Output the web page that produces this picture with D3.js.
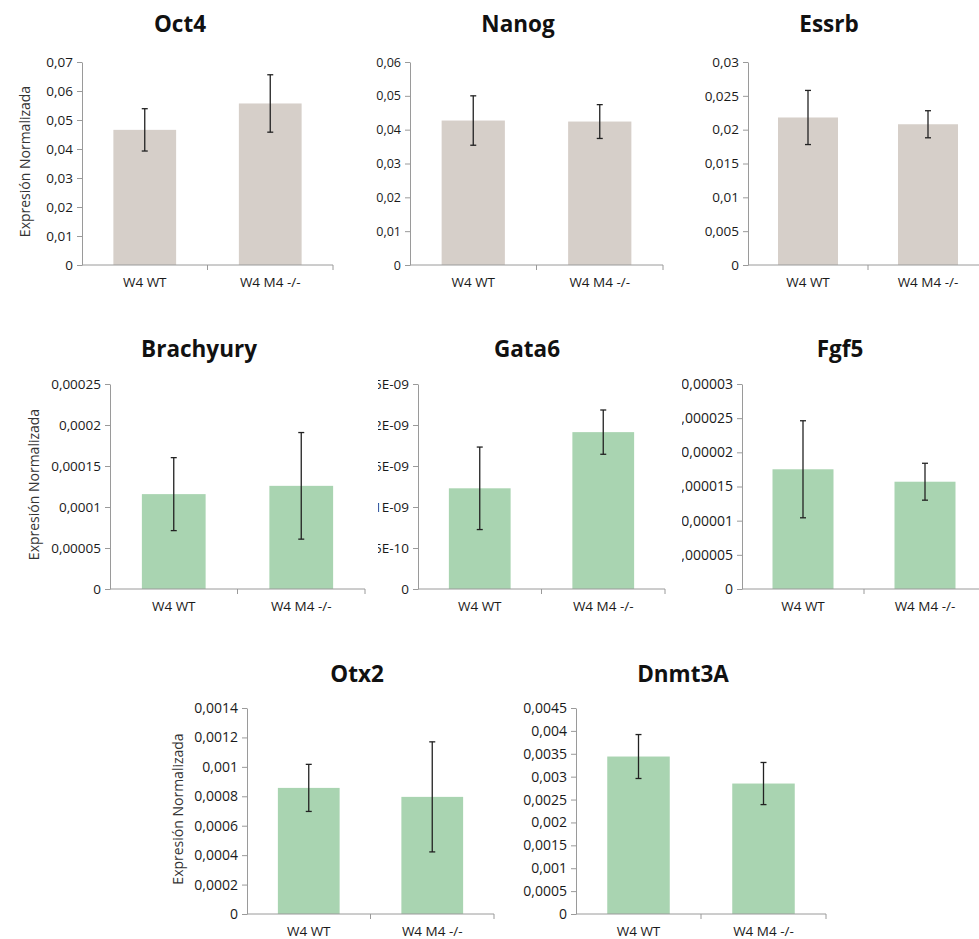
<!DOCTYPE html>
<html>
<head>
<meta charset="utf-8">
<script src="https://cdn.jsdelivr.net/npm/d3@7"></script>
<style>
  body { margin: 0; background: #fff; }
  svg { display: block; font-family: "Open Sans", sans-serif; }
</style>
</head>
<body>
<script>
// Data
var genes = ["Oct4", "Nanog", "Essrb", "Brachyury", "Gata6", "Fgf5", "Otx2", "Dnmt3A"];
var groups = ["W4 WT", "W4 M4 -/-"];

var wtMeans  = [0.0466, 0.0427, 0.0218, 0.0001157, 1.228e-9, 1.752e-5, 0.000857, 0.00344];
var wtErrors = [0.0073, 0.0073, 0.0040, 0.0000445, 0.503e-9, 0.71e-5,  0.000160, 0.00048];
var koMeans  = [0.0557, 0.0424, 0.0208, 0.0001258, 1.913e-9, 1.570e-5, 0.000796, 0.00285];
var koErrors = [0.0099, 0.0050, 0.0020, 0.0000650, 0.270e-9, 0.27e-5,  0.000374, 0.00046];

var yTickValues = [
    [0, 0.01, 0.02, 0.03, 0.04, 0.05, 0.06, 0.07],
    [0, 0.01, 0.02, 0.03, 0.04, 0.05, 0.06],
    [0, 0.005, 0.01, 0.015, 0.02, 0.025, 0.03],
    [0, 0.00005, 0.0001, 0.00015, 0.0002, 0.00025],
    [0, 5e-10, 1e-9, 1.5e-9, 2e-9, 2.5e-9],
    [0, 0.000005, 0.00001, 0.000015, 0.00002, 0.000025, 0.00003],
    [0, 0.0002, 0.0004, 0.0006, 0.0008, 0.001, 0.0012, 0.0014],
    [0, 0.0005, 0.001, 0.0015, 0.002, 0.0025, 0.003, 0.0035, 0.004, 0.0045]
];
var yTickLabels = [
    ["0", "0,01", "0,02", "0,03", "0,04", "0,05", "0,06", "0,07"],
    ["0", "0,01", "0,02", "0,03", "0,04", "0,05", "0,06"],
    ["0", "0,005", "0,01", "0,015", "0,02", "0,025", "0,03"],
    ["0", "0,00005", "0,0001", "0,00015", "0,0002", "0,00025"],
    ["0", "5E-10", "1E-09", "1,5E-09", "2E-09", "2,5E-09"],
    ["0", "0,000005", "0,00001", "0,000015", "0,00002", "0,000025", "0,00003"],
    ["0", "0,0002", "0,0004", "0,0006", "0,0008", "0,001", "0,0012", "0,0014"],
    ["0", "0,0005", "0,001", "0,0015", "0,002", "0,0025", "0,003", "0,0035", "0,004", "0,0045"]
];
var yLabel = "Expresión Normalizada";

// Panel placement (pixels); fs = tick font size, each panel was pasted at its own scale
var beige = "#d6cfc9";
var green = "#a9d4b1";
var layout = [
    { left: 82,  right: 333, top: 62,  bottom: 265, tx: 180, ty: 23,  fill: beige, fs: 13.5, lx: 24 },
    { left: 410, right: 663, top: 62,  bottom: 265, tx: 518, ty: 23,  fill: beige, fs: 12.5 },
    { left: 748, right: 988, top: 62,  bottom: 265, tx: 829, ty: 23,  fill: beige, fs: 13.5 },
    { left: 110, right: 365, top: 384, bottom: 589, tx: 199, ty: 348, fill: green, fs: 13.5, lx: 33 },
    { left: 418, right: 665, top: 384, bottom: 589, tx: 527, ty: 348, fill: green, fs: 13.5, clip: 378 },
    { left: 742, right: 986, top: 384, bottom: 589, tx: 840, ty: 348, fill: green, fs: 14, clip: 682 },
    { left: 247, right: 494, top: 708, bottom: 914, tx: 357, ty: 673, fill: green, fs: 14, lx: 177 },
    { left: 576, right: 826, top: 708, bottom: 914, tx: 683, ty: 673, fill: green, fs: 14 }
];

var width = 979, height = 939;
var axisColor = "#9a9a9a";

var svg = d3.select("body").append("svg")
    .attr("width", width)
    .attr("height", height);

var defs = svg.append("defs");

layout.forEach(function (p, i) {
    var g = svg.append("g");

    if (p.clip) {
        defs.append("clipPath").attr("id", "clip-" + i)
            .append("rect")
            .attr("x", p.clip).attr("y", p.top - 60)
            .attr("width", width - p.clip).attr("height", p.bottom - p.top + 100);
        g.attr("clip-path", "url(#clip-" + i + ")");
    }

    var y = d3.scaleLinear()
        .domain([0, d3.max(yTickValues[i])])
        .range([p.bottom, p.top]);

    var x = d3.scaleBand()
        .domain(groups)
        .range([p.left, p.right])
        .paddingInner(0.5)
        .paddingOuter(0.25);

    var edges = d3.scaleLinear().domain([0, groups.length]).range([p.left, p.right]);

    var means = [wtMeans[i], koMeans[i]];
    var errs = [wtErrors[i], koErrors[i]];
    var rows = groups.map(function (grp, k) { return { group: grp, mean: means[k], err: errs[k] }; });

    // bars
    g.selectAll("rect.bar")
        .data(rows)
        .join("rect")
        .attr("class", "bar")
        .attr("x", function (d) { return x(d.group); })
        .attr("width", x.bandwidth())
        .attr("y", function (d) { return y(d.mean); })
        .attr("height", function (d) { return y(0) - y(d.mean); })
        .attr("fill", p.fill);

    // y axis
    var yAxis = g.append("g")
        .attr("transform", "translate(" + p.left + ",0)")
        .call(d3.axisLeft(y)
            .tickValues(yTickValues[i])
            .tickFormat(function (d, k) { return yTickLabels[i][k]; })
            .tickSizeInner(5)
            .tickSizeOuter(0)
            .tickPadding(4));
    yAxis.select(".domain").attr("stroke", axisColor);
    yAxis.selectAll(".tick line").attr("stroke", axisColor);
    yAxis.selectAll("text")
        .attr("font-family", "Open Sans")
        .attr("font-size", p.fs)
        .attr("fill", "#1a1a1a");

    // x axis line, boundary ticks and labels
    g.append("line")
        .attr("x1", p.left).attr("x2", p.right)
        .attr("y1", y(0)).attr("y2", y(0))
        .attr("stroke", axisColor);

    g.selectAll("line.xtick")
        .data(d3.range(1, groups.length + 1))
        .join("line")
        .attr("class", "xtick")
        .attr("x1", function (d) { return edges(d); })
        .attr("x2", function (d) { return edges(d); })
        .attr("y1", y(0)).attr("y2", y(0) + 5)
        .attr("stroke", axisColor);

    var xAxis = g.append("g")
        .attr("transform", "translate(0," + y(0) + ")")
        .call(d3.axisBottom(x).tickSize(0).tickPadding(12));
    xAxis.select(".domain").remove();
    xAxis.selectAll("text")
        .attr("font-family", "Open Sans")
        .attr("font-size", 13.5)
        .attr("fill", "#1a1a1a");

    // error bars
    var eb = g.selectAll("g.err")
        .data(rows)
        .join("g")
        .attr("class", "err")
        .attr("stroke", "#222")
        .attr("stroke-width", 1.3);
    var cx = function (d) { return x(d.group) + x.bandwidth() / 2; };
    eb.append("line")
        .attr("x1", cx).attr("x2", cx)
        .attr("y1", function (d) { return y(d.mean - d.err); })
        .attr("y2", function (d) { return y(d.mean + d.err); });
    [-1, 1].forEach(function (s) {
        eb.append("line")
            .attr("x1", function (d) { return cx(d) - 3; })
            .attr("x2", function (d) { return cx(d) + 3; })
            .attr("y1", function (d) { return y(d.mean + s * d.err); })
            .attr("y2", function (d) { return y(d.mean + s * d.err); });
    });

    // title
    svg.append("text")
        .attr("x", p.tx).attr("y", p.ty)
        .attr("text-anchor", "middle")
        .attr("dominant-baseline", "central")
        .attr("font-family", "Open Sans")
        .attr("font-weight", "bold")
        .attr("font-size", 22.5)
        .attr("fill", "#111")
        .text(genes[i]);

    // y axis label
    if (p.lx) {
        svg.append("text")
            .attr("transform", "translate(" + p.lx + "," + ((p.top + p.bottom) / 2 - 2) + ") rotate(-90)")
            .attr("text-anchor", "middle")
            .attr("dominant-baseline", "central")
            .attr("font-family", "Open Sans")
            .attr("font-size", 14)
            .attr("fill", "#333")
            .text(yLabel);
    }
});
</script>
</body>
</html>
